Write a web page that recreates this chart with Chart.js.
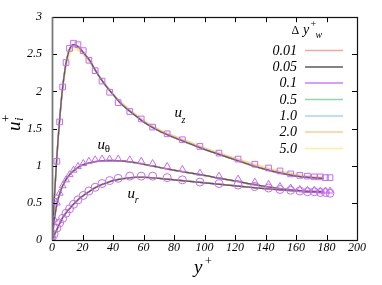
<!DOCTYPE html>
<html><head><meta charset="utf-8">
<script src="https://cdn.jsdelivr.net/npm/chart.js@4.4.1/dist/chart.umd.min.js"></script>
<style>html,body{margin:0;padding:0;background:#fff}canvas{display:block}</style>
</head><body>
<canvas id="c" width="382" height="285"></canvas>
<script>
// ---- data ----
const xTicks = [0,20,40,60,80,100,120,140,160,180,200];
const yTicks = [0,0.5,1,1.5,2,2.5,3];
const yTickLabels = ["0","0.5","1","1.5","2","2.5","3"];
const legendLabels = ["0.01","0.05","0.1","0.5","1.0","2.0","5.0"];

// markers (reference data)
const markX = [0,1.4,3.2,5.0,7.0,9.2,11.5,14.1,17.0,20.5,24.2,28.3,32.8,37.8,43.4,51,58.5,66,75.5,85.5,97,109.5,122,133,142,149.5,156.5,162.5,167.5,172,176,179.3,182.3];
const uzMark = [0.02,0.52,1.06,1.59,2.06,2.39,2.58,2.65,2.63,2.55,2.42,2.28,2.14,1.99,1.85,1.73,1.63,1.52,1.43,1.35,1.26,1.17,1.09,1.02,0.97,0.93,0.89,0.87,0.86,0.85,0.85,0.84,0.84];
const utMark = [0.0,0.28,0.50,0.63,0.73,0.81,0.88,0.94,0.99,1.03,1.06,1.08,1.09,1.09,1.09,1.08,1.06,1.03,0.99,0.95,0.90,0.86,0.82,0.78,0.75,0.72,0.70,0.68,0.67,0.67,0.66,0.66,0.66];
const urMark = [0.02,0.08,0.16,0.23,0.29,0.36,0.42,0.48,0.54,0.60,0.66,0.71,0.76,0.80,0.83,0.86,0.86,0.86,0.84,0.81,0.78,0.76,0.74,0.72,0.70,0.68,0.67,0.66,0.65,0.65,0.64,0.64,0.63];

// simulation lines
const lineX = [0,1,2,3,4,5,6,7,8,9,10,11,12,13,14,15,16,18,20,22,25,28,32,36,40,45,50,55,60,70,80,90,100,110,120,130,140,150,160,170,178];
const uzLine = [0,0.36,0.72,1.06,1.36,1.62,1.86,2.06,2.22,2.36,2.46,2.54,2.59,2.62,2.63,2.63,2.62,2.59,2.54,2.49,2.41,2.30,2.17,2.06,1.96,1.84,1.75,1.67,1.59,1.47,1.38,1.30,1.22,1.15,1.08,1.01,0.95,0.90,0.86,0.84,0.83];
const uzLine2 = [0,0.37,0.73,1.07,1.37,1.62,1.85,2.04,2.20,2.33,2.43,2.51,2.56,2.59,2.60,2.60,2.59,2.56,2.52,2.47,2.40,2.30,2.18,2.07,1.97,1.86,1.77,1.69,1.61,1.49,1.40,1.32,1.24,1.17,1.10,1.03,0.97,0.92,0.88,0.85,0.84];
const uzLine5 = [0,0.37,0.73,1.06,1.35,1.60,1.82,2.00,2.16,2.29,2.39,2.46,2.51,2.55,2.56,2.57,2.56,2.54,2.50,2.46,2.38,2.29,2.17,2.06,1.96,1.86,1.77,1.69,1.61,1.49,1.40,1.32,1.24,1.17,1.10,1.04,0.98,0.93,0.89,0.86,0.85];
const utLine = [0,0.18,0.34,0.46,0.55,0.62,0.68,0.73,0.77,0.81,0.84,0.865,0.89,0.91,0.93,0.945,0.96,0.99,1.01,1.025,1.04,1.055,1.065,1.07,1.07,1.065,1.055,1.04,1.02,0.98,0.94,0.905,0.87,0.83,0.795,0.755,0.72,0.69,0.67,0.655,0.65];
const urLine = [0,0.04,0.09,0.13,0.18,0.22,0.26,0.30,0.33,0.36,0.39,0.41,0.43,0.46,0.48,0.50,0.52,0.56,0.59,0.62,0.66,0.70,0.74,0.77,0.80,0.82,0.835,0.845,0.845,0.83,0.81,0.79,0.77,0.75,0.73,0.71,0.69,0.675,0.66,0.645,0.64];

const lineColors = ['#f4a6a2','#5a5a5a','#cc7ff0','#94d4b4','#a9d6ee','#f3d095','#f8f0a0'];
const lineOrder = [3,1,4,5,6,7,8];   // lower = drawn on top
const markColor = '#c46cf0';

const pts = (xs, ys) => xs.map((x,i)=>({x:x,y:ys[i]}));
const uzSets = [uzLine,uzLine,uzLine,uzLine,uzLine,uzLine2,uzLine5];

const datasets = [];
datasets.push({data:pts(markX,uzMark),pointStyle:'rect',pointRadius:4,borderColor:markColor,backgroundColor:'rgba(0,0,0,0)',borderWidth:1,showLine:false,order:0});
datasets.push({data:pts(markX,utMark),pointStyle:'triangle',pointRadius:4,borderColor:markColor,backgroundColor:'rgba(0,0,0,0)',borderWidth:1,showLine:false,order:0});
datasets.push({data:pts(markX,urMark),pointStyle:'circle',pointRadius:4,borderColor:markColor,backgroundColor:'rgba(0,0,0,0)',borderWidth:1,showLine:false,order:0});
legendLabels.forEach((lab,k)=>{
  [uzSets[k],utLine,urLine].forEach(arr=>{
    datasets.push({data:pts(lineX,arr),showLine:true,pointRadius:0,borderColor:lineColors[k],borderWidth:k===1?1.2:1.5,cubicInterpolationMode:'monotone',fill:false,order:lineOrder[k]});
  });
});

const SERIF = '"Liberation Serif","DejaVu Serif",serif';

const deco = {
  id:'deco',
  afterDraw(chart){
    const ctx = chart.ctx, a = chart.chartArea, xs = chart.scales.x, ys = chart.scales.y;
    ctx.save();
    ctx.strokeStyle = '#000'; ctx.lineWidth = 1;
    ctx.beginPath();
    xTicks.forEach(v=>{const p=Math.round(xs.getPixelForValue(v))+0.5;
      ctx.moveTo(p,a.bottom);ctx.lineTo(p,a.bottom-5);ctx.moveTo(p,a.top);ctx.lineTo(p,a.top+5);});
    yTicks.forEach(v=>{const p=Math.round(ys.getPixelForValue(v))+0.5;
      ctx.moveTo(a.left,p);ctx.lineTo(a.left+5,p);ctx.moveTo(a.right,p);ctx.lineTo(a.right-5,p);});
    ctx.stroke();
    ctx.lineWidth = 1.2; ctx.strokeStyle = '#111';
    ctx.strokeRect(Math.round(a.left)+0.5, Math.round(a.top)+0.5, Math.round(a.right-a.left), Math.round(a.bottom-a.top));
    ctx.strokeStyle='#777'; ctx.lineWidth=1.5;
    ctx.beginPath(); ctx.moveTo(a.left+0.5,a.top); ctx.lineTo(a.left+0.5,a.bottom); ctx.stroke();

    ctx.fillStyle = '#000'; ctx.textBaseline='alphabetic';
    const txt=(s,x,y,size,italic,align)=>{ctx.font=(italic?'italic ':'')+size+'px '+SERIF;ctx.textAlign=align||'left';ctx.fillText(s,x,y);};
    txt('u',174.5,116.5,15,true); txt('z',181.5,122.5,10,true);
    txt('u',97.5,148.5,15,true); txt('\u03b8',104.8,151.5,11,false);
    txt('u',127.5,197.5,15,true); txt('r',134.8,203,10,true);
    txt('\u0394',291.5,33.5,12,false); txt('y',303,33.5,14,true); txt('+',310.5,27,10,false); txt('w',315.5,37.5,10,true);
    const rowY=[50,66.5,82.5,99,115.5,131.5,148];
    legendLabels.forEach((lab,k)=>{
      txt(lab,297,rowY[k]+4.5,14,true,'right');
      ctx.strokeStyle=lineColors[k]; ctx.lineWidth=1.3;
      ctx.beginPath(); ctx.moveTo(305,rowY[k]+0.5); ctx.lineTo(343,rowY[k]+0.5); ctx.stroke();
    });
    txt('y',194,273,19,true); txt('+',205,265,12,false);
    ctx.save(); ctx.translate(20,131); ctx.rotate(-Math.PI/2);
    txt('u',0,0,19,true); txt('i',10,3,13,true); txt('+',9,-10,13,false);
    ctx.restore();
    ctx.restore();
  }
};

new Chart(document.getElementById('c'),{
  type:'scatter',
  data:{datasets},
  options:{
    responsive:false, animation:false, devicePixelRatio:1,
    layout:{padding:{top:10,right:25,left:0,bottom:0}},
    plugins:{legend:{display:false},tooltip:{enabled:false}},
    elements:{line:{tension:0}},
    scales:{
      x:{type:'linear',min:0,max:200,
        afterBuildTicks(s){s.ticks=xTicks.map(v=>({value:v}));},
        ticks:{color:'#000',font:{family:SERIF,style:'italic',size:12},padding:1,maxRotation:0,callback:v=>String(v)},
        grid:{display:true,drawOnChartArea:false,drawTicks:false,color:'rgba(0,0,0,0)'},border:{display:false},
        afterFit(s){s.height=45;}},
      y:{type:'linear',min:0,max:3,
        afterBuildTicks(s){s.ticks=yTicks.map(v=>({value:v}));},
        ticks:{color:'#000',font:{family:SERIF,style:'italic',size:12},padding:10,callback:(v)=>yTickLabels[yTicks.indexOf(v)]},
        grid:{display:true,drawOnChartArea:false,drawTicks:false,color:'rgba(0,0,0,0)'},border:{display:false},
        afterFit(s){s.width=52;}}
    }
  },
  plugins:[deco]
});
</script>
</body></html>
